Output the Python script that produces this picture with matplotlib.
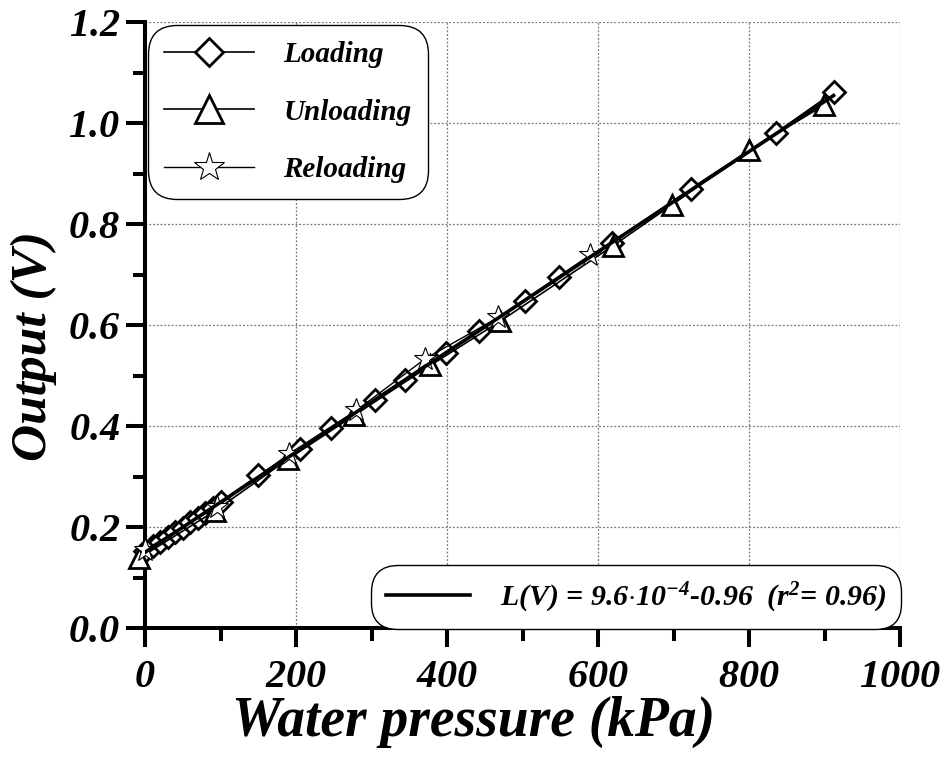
import matplotlib
matplotlib.use("Agg")
import matplotlib.pyplot as plt
import numpy as np
from matplotlib.lines import Line2D
from matplotlib.ticker import MultipleLocator, FormatStrFormatter

plt.rcParams['font.family'] = ['Liberation Serif', 'DejaVu Serif']
plt.rcParams['font.weight'] = 'bold'
plt.rcParams['font.style'] = 'italic'
plt.rcParams['axes.labelweight'] = 'bold'
plt.rcParams['mathtext.fontset'] = 'custom'
plt.rcParams['mathtext.rm'] = 'Liberation Serif:bold:italic'
plt.rcParams['mathtext.it'] = 'Liberation Serif:bold:italic'
plt.rcParams['mathtext.bf'] = 'Liberation Serif:bold:italic'

# readings from the picture
load_p = [0, 10, 20, 30, 40, 50, 60, 70, 80, 90, 100,
          150, 205, 247, 304, 345, 399, 443, 503, 549, 618, 723, 836, 912]
load_v = [0.152, 0.162, 0.171, 0.181, 0.190, 0.199, 0.209, 0.218, 0.228, 0.238, 0.250,
          0.302, 0.355, 0.396, 0.452, 0.492, 0.544, 0.588, 0.648, 0.696, 0.762, 0.870, 0.981, 1.061]

unload_p = [899, 800, 698, 620, 470, 378, 277, 190, 93, -8]
unload_v = [1.035, 0.946, 0.838, 0.757, 0.607, 0.520, 0.421, 0.335, 0.232, 0.138]

reload_p = [0, 95, 191, 280, 371, 468, 590]
reload_v = [0.155, 0.240, 0.345, 0.431, 0.533, 0.615, 0.739]

fit_label = r'L(V) = 9.6$\cdot$10$^{-4}$-0.96  (r$^{2}$= 0.96)'

fig = plt.figure(figsize=(9.49, 7.58), dpi=100)
ax = fig.add_axes([145 / 949, 1 - 628 / 758, 755 / 949, 606 / 758])

# fitted line from all points
all_p = np.concatenate([load_p, unload_p, reload_p])
all_v = np.concatenate([load_v, unload_v, reload_v])
coef = np.polyfit(all_p, all_v, 1)
xf = np.array([0, max(load_p)])
fit_line, = ax.plot(xf, np.polyval(coef, xf), color='black', lw=2.6, zorder=4)

l1, = ax.plot(load_p, load_v, color='black', lw=1.2, marker='D', ms=11,
              mfc='white', mec='black', mew=2.0, clip_on=False, zorder=3,
              label='Loading')
l2, = ax.plot(unload_p, unload_v, color='black', lw=1.2, marker='^', ms=15,
              mfc='white', mec='black', mew=2.0, clip_on=False, zorder=3,
              label='Unloading')
l3, = ax.plot(reload_p, reload_v, color='black', lw=1.0, marker='*', ms=17,
              mfc='white', mec='black', mew=0.8, clip_on=False, zorder=3,
              label='Reloading')

ax.set_xlim(0, 1000)
ax.set_ylim(0, 1.2)
ax.xaxis.set_major_locator(MultipleLocator(200))
ax.xaxis.set_minor_locator(MultipleLocator(100))
ax.yaxis.set_major_locator(MultipleLocator(0.2))
ax.yaxis.set_minor_locator(MultipleLocator(0.1))
# mathtext so the digits come out bold italic
ax.xaxis.set_major_formatter(FormatStrFormatter('$%d$'))
ax.yaxis.set_major_formatter(FormatStrFormatter('$%.1f$'))

ax.grid(True, which='major', color='#777777', ls=(0, (1.5, 1.5)), lw=0.9)
ax.set_axisbelow(True)

for s in ['top', 'right']:
    ax.spines[s].set_visible(False)
for s in ['left', 'bottom']:
    ax.spines[s].set_linewidth(2.9)

ax.tick_params(which='major', direction='out', length=14, width=2.9, labelsize=29)
ax.tick_params(which='minor', direction='out', length=9, width=2.9)
ax.tick_params(axis='x', pad=8)
ax.tick_params(axis='y', pad=4)

ax.set_xlabel('Water pressure (kPa)', fontsize=40, fontstyle='italic',
              fontweight='bold', labelpad=0)
ax.set_ylabel('Output (V)', fontsize=37, fontstyle='italic',
              fontweight='bold', labelpad=8)
ax.xaxis.label.set_x(0.435)
ax.yaxis.label.set_y(0.465)

leg1 = ax.legend(handles=[l1, l2, l3], loc='upper left', fontsize=21,
                 handlelength=3.1, handletextpad=1.0, labelspacing=1.05,
                 borderaxespad=0.3, borderpad=0.35, markerscale=1.3,
                 fancybox=True, framealpha=1, edgecolor='black')
leg1.get_frame().set_boxstyle('round,pad=0.2,rounding_size=1.0')
leg1.get_frame().set_linewidth(1.0)
ax.add_artist(leg1)

leg2 = ax.legend(handles=[Line2D([], [], color='black', lw=2.6)], labels=[fit_label],
                 loc='lower right', fontsize=21.5, handlelength=2.8, handletextpad=1.0,
                 borderaxespad=0.15, borderpad=0.3, fancybox=True, framealpha=1,
                 edgecolor='black')
leg2.get_frame().set_boxstyle('round,pad=0.2,rounding_size=0.9')
leg2.get_frame().set_linewidth(1.0)

fig.savefig('out.png', dpi=100)
